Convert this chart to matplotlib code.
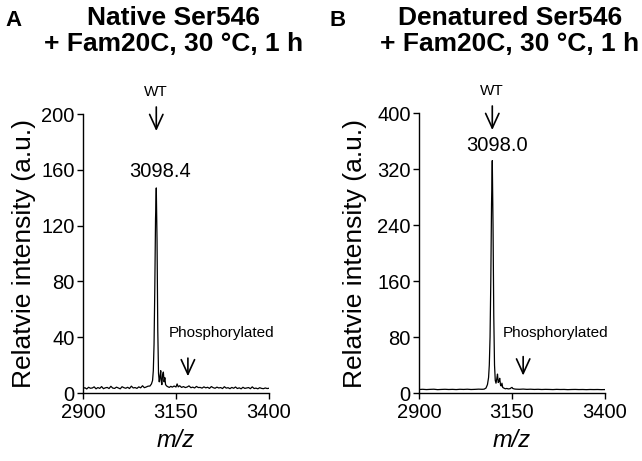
import matplotlib
matplotlib.use("Agg")
import matplotlib.pyplot as plt

plt.rcParams['font.family'] = ['Liberation Sans', 'DejaVu Sans']

# ---------------- data ----------------
mz_native = [2900, 2905, 2910, 2915, 2920, 2925, 2930, 2935, 2940, 2945, 2950, 2955,
             2960, 2965, 2970, 2975, 2980, 2985, 2990, 2995, 3000, 3005, 3010, 3015,
             3020, 3025, 3030, 3035, 3040, 3045, 3050, 3055, 3060, 3065, 3070, 3075,
             3080, 3084, 3087, 3089, 3091, 3093, 3095, 3097, 3099, 3101, 3103, 3105,
             3107, 3109, 3110, 3112, 3114, 3116, 3118, 3120, 3122, 3125, 3128, 3132,
             3136, 3140, 3145, 3150, 3153, 3156, 3160, 3165,
             3170, 3175, 3180, 3185, 3190, 3195, 3200, 3205, 3210, 3215, 3220, 3225,
             3230, 3235, 3240, 3245, 3250, 3255, 3260, 3265, 3270, 3275, 3280, 3285,
             3290, 3295, 3300, 3305, 3310, 3315, 3320, 3325, 3330, 3335, 3340, 3345,
             3350, 3355, 3360, 3365, 3370, 3375, 3380, 3385, 3390, 3395, 3400]
int_native = [3.2, 3.8, 2.9, 4.1, 3.4, 3.6, 4.4, 3.0, 3.9, 3.3, 4.6, 3.1,
              3.7, 4.0, 3.2, 4.8, 3.5, 3.3, 4.2, 3.6, 3.0, 4.5, 3.8, 3.4,
              4.1, 3.2, 4.9, 3.6, 3.9, 3.3, 4.4, 3.7, 5.2, 3.8, 4.3, 4.9,
              5.0, 6.5, 9.0, 16, 35, 75, 125, 147, 110, 45, 14, 8,
              12, 16, 9, 6, 13, 15, 8, 11, 6, 5, 4.5, 4.0,
              4.8, 4.2, 5.0, 4.3, 6.5, 4.4, 5.2, 4.0,
              4.6, 3.9, 4.3, 5.1, 3.8, 4.2, 3.6, 4.7, 3.9, 4.0, 3.5, 4.4,
              3.7, 4.1, 3.3, 4.6, 3.8, 3.4, 4.2, 3.6, 3.9, 3.2, 4.5, 3.5,
              3.8, 3.1, 4.0, 3.4, 4.3, 3.2, 3.7, 3.0, 4.1, 3.3, 3.6, 3.9,
              3.1, 4.4, 3.2, 3.5, 3.0, 3.8, 3.3, 3.1, 3.6, 3.2, 3.4]

mz_denat = [2900, 2910, 2920, 2930, 2940, 2950, 2960, 2970, 2980, 2990, 3000, 3010,
            3020, 3030, 3040, 3050, 3060, 3070, 3075, 3080, 3084, 3087, 3089, 3091,
            3093, 3095, 3097, 3099, 3101, 3103, 3105, 3107, 3109, 3111, 3113, 3115,
            3117, 3119, 3121, 3123, 3125, 3128, 3132, 3136, 3140, 3145, 3148, 3150,
            3152, 3156, 3160, 3170, 3180, 3190, 3200, 3210, 3220, 3230, 3240, 3250,
            3260, 3270, 3280, 3290, 3300, 3310, 3320, 3330, 3340, 3350, 3360, 3370,
            3380, 3390, 3400]
int_denat = [5.0, 5.3, 4.9, 5.2, 5.4, 4.8, 5.1, 5.3, 5.0, 5.2, 4.9, 5.3,
             5.1, 5.4, 5.0, 5.2, 5.5, 5.3, 5.5, 7, 12, 22, 40, 80,
             160, 270, 332, 240, 110, 40, 18, 14, 20, 27, 15, 17,
             21, 12, 10, 14, 8, 7, 6.0, 6.5, 5.8, 6.2, 7.5, 8.0,
             6.5, 5.8, 5.5, 5.3, 5.6, 5.2, 5.4, 5.1, 5.3, 5.0, 5.2, 5.1,
             4.9, 5.2, 5.0, 5.1, 4.8, 5.0, 5.1, 4.9, 5.0, 4.8, 5.0, 4.9,
             5.0, 4.8, 4.9]

x_ticks = [2900, 3150, 3400]
y_ticks_native = [0, 40, 80, 120, 160, 200]
y_ticks_denat = [0, 80, 160, 240, 320, 400]
titles = ["Native Ser546\n+ Fam20C, 30 °C, 1 h", "Denatured Ser546\n+ Fam20C, 30 °C, 1 h"]
panel_letters = ["A", "B"]
peak_labels = ["3098.4", "3098.0"]
peak_mz = [3097, 3097]

# ---------------- figure ----------------
fig = plt.figure(figsize=(6.42, 4.61), dpi=100)
ax1 = fig.add_axes([83 / 642, 68 / 461, 186 / 642, 279 / 461])
ax2 = fig.add_axes([419 / 642, 68 / 461, 186 / 642, 280 / 461])

arrow_kw = dict(arrowstyle='->,head_length=0.7,head_width=0.32', color='black', lw=1.2,
                shrinkA=0, shrinkB=0, mutation_scale=15)

cfg = [
    (ax1, mz_native, int_native, y_ticks_native, 200, 1.395, 4),
    (ax2, mz_denat, int_denat, y_ticks_denat, 400, 0.70, 7),
]

for i, (ax, mz, inten, yt, ymax, pxu, lpad) in enumerate(cfg):
    ax.plot(mz, inten, color='black', lw=0.9)
    ax.set_xlim(2900, 3400)
    ax.set_ylim(0, ymax)
    ax.set_xticks(x_ticks)
    ax.set_yticks(yt)
    ax.spines['top'].set_visible(False)
    ax.spines['right'].set_visible(False)
    for s in ['left', 'bottom']:
        ax.spines[s].set_linewidth(1.0)
    ax.tick_params(direction='out', length=4.5, width=1.0, labelsize=14.5, pad=1.5)
    ax.tick_params(axis='x', pad=3)
    ax.set_xlabel('m/z', fontsize=17, style='italic', labelpad=5)
    ax.set_ylabel('Relatvie intensity (a.u.)', fontsize=19, labelpad=lpad)

    # WT annotation
    ax.annotate('', xy=(peak_mz[i], ymax - 17 / pxu), xytext=(peak_mz[i], ymax + 7 / pxu),
                arrowprops=arrow_kw, annotation_clip=False)
    ax.text(peak_mz[i], ymax + 22 / pxu, 'WT', ha='center', va='center', fontsize=11, clip_on=False)

ax1.text(3108, 159, peak_labels[0], ha='center', va='center', fontsize=14.5)
ax2.text(3111, 354, peak_labels[1], ha='center', va='center', fontsize=14.5)

# Phosphorylated annotations
ax1.annotate('', xy=(3182, 12), xytext=(3182, 25), arrowprops=arrow_kw)
ax1.text(3131, 43, 'Phosphorylated', ha='left', va='center', fontsize=11)
ax2.annotate('', xy=(3180, 25), xytext=(3180, 52), arrowprops=arrow_kw)
ax2.text(3126, 86, 'Phosphorylated', ha='left', va='center', fontsize=11)

# Titles and panel letters
fig.text(174 / 642, 1 - 31 / 461, titles[0], ha='center', va='center', fontsize=19,
         fontweight='bold', linespacing=1.15)
fig.text(510 / 642, 1 - 31 / 461, titles[1], ha='center', va='center', fontsize=19,
         fontweight='bold', linespacing=1.15)
fig.text(13 / 642, 1 - 21 / 461, panel_letters[0], ha='center', va='center', fontsize=16, fontweight='bold')
fig.text(338 / 642, 1 - 21 / 461, panel_letters[1], ha='center', va='center', fontsize=16, fontweight='bold')

fig.savefig('out.png', dpi=100)
